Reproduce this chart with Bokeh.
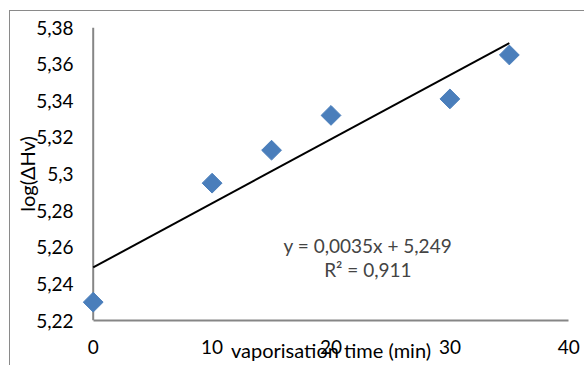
from math import pi
from bokeh.plotting import figure
from bokeh.models import Range1d, FixedTicker, Label, Span
from bokeh.embed import file_html
from bokeh.resources import INLINE

# data
time_min = [0, 10, 15, 20, 30, 35]
log_dhv = [5.230, 5.295, 5.313, 5.332, 5.341, 5.365]
slope = 0.0035
intercept = 5.249
trend_x = [0, 35]
x_ticks = [0, 10, 20, 30, 40]
x_tick_labels = ["0", "10", "20", "30", "40"]
y_ticks = [5.22, 5.24, 5.26, 5.28, 5.30, 5.32, 5.34, 5.36, 5.38]
y_tick_labels = ["5,22", "5,24", "5,26", "5,28", "5,3", "5,32", "5,34", "5,36", "5,38"]
eq_text = "y = 0,0035x + 5,249"
r2_text = "R² = 0,911"
x_title = "vaporisation time (min)"
y_title = "log(ΔHv)"

FONT = "Lato"
GRAY = "#868686"
BLUE = "#4a7ebb"

p = figure(width=575, height=355, output_backend="svg", toolbar_location=None,
           x_range=Range1d(-0.9, 40.9), y_range=Range1d(5.22, 5.38),
           min_border_left=72, min_border_right=6, min_border_top=16, min_border_bottom=46)
p.margin = (10, 0, 0, 9)
p.styles = {"border-left": "1px solid #8a8a8a", "border-top": "1px solid #8a8a8a"}
p.outline_line_color = None
p.grid.grid_line_color = None
p.background_fill_color = "white"
p.border_fill_color = "white"

for ax in (p.xaxis[0], p.yaxis[0]):
    ax.axis_line_color = GRAY
    ax.axis_line_width = 2
    ax.major_tick_line_color = None
    ax.minor_tick_line_color = None
    ax.major_tick_out = 0
    ax.major_tick_in = 0
    ax.minor_tick_out = 0
    ax.major_label_text_font = FONT
    ax.major_label_text_font_size = "19px"
    ax.major_label_text_color = "#000000"
    ax.axis_label_text_font = FONT
    ax.axis_label_text_font_size = "20px"
    ax.axis_label_text_font_style = "normal"
    ax.axis_label_text_color = "#000000"

xa = p.xaxis[0]
xa.ticker = FixedTicker(ticks=x_ticks)
xa.major_label_overrides = dict(zip(x_ticks, x_tick_labels))
xa.major_label_standoff = 19
xa.bounds = (0, 40)
xa.axis_label = x_title
xa.axis_label_standoff = -19

ya = p.yaxis[0]
ya.ticker = FixedTicker(ticks=y_ticks)
ya.major_label_overrides = dict(zip(y_ticks, y_tick_labels))
ya.major_label_standoff = 9
ya.axis_line_color = None
ya.axis_label = y_title
ya.axis_label_standoff = -6

# y axis line drawn at x = 0 (the frame is widened a little so the first marker is not clipped)
p.add_layout(Span(location=0, dimension="height", line_color=GRAY, line_width=2, level="underlay"))

trend_y = [slope * x + intercept for x in trend_x]
p.line(trend_x, trend_y, line_color="black", line_width=2)
p.scatter(time_min, log_dhv, marker="square", angle=pi / 4, size=14,
          fill_color=BLUE, line_color=BLUE)

p.add_layout(Label(x=23.1, y=5.2610, text=eq_text, text_align="center",
                   text_baseline="middle", text_font=FONT, text_font_size="19px"))
p.add_layout(Label(x=23.1, y=5.2480, text=r2_text, text_align="center",
                   text_baseline="middle", text_font=FONT, text_font_size="19px"))

open("out.html", "w").write(file_html(p, INLINE))
